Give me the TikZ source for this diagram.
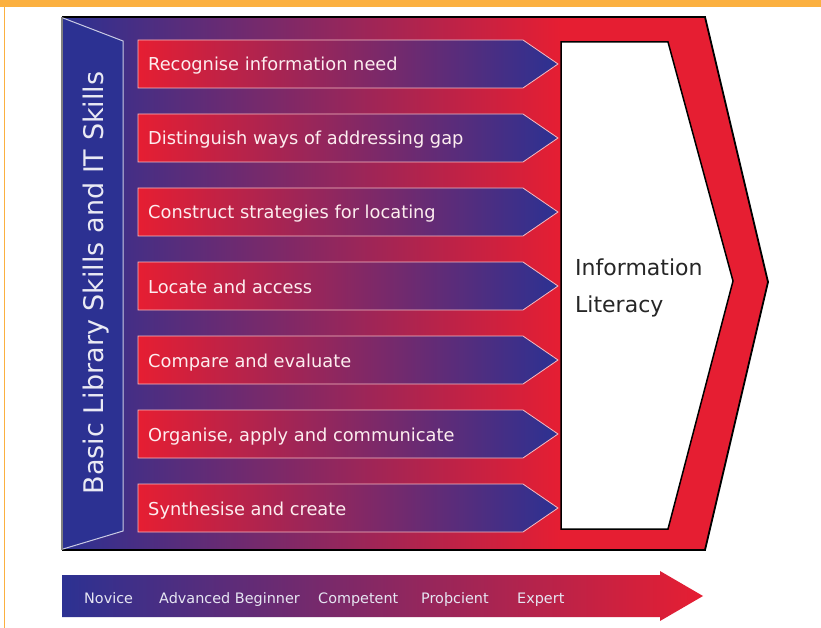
\documentclass[tikz,border=0pt]{standalone}
\usepackage{fontspec}
\setmainfont{DejaVu Sans}
\definecolor{skillblue}{RGB}{44,49,146}
\definecolor{skillred}{RGB}{230,30,50}
\definecolor{frameorange}{RGB}{251,176,64}
\tikzset{
  rowarrow/.style={left color=skillred, right color=skillblue, draw=skillred!30!white, line width=0.8pt},
  rowtext/.style={anchor=base west, inner sep=0pt, text=white!92!skillred, font=\fontsize{17.8}{20}\selectfont},
  levelname/.style={anchor=base west, inner sep=0pt, text=white!88!skillblue, font=\fontsize{14.4}{17}\selectfont},
  littext/.style={anchor=base west, inner sep=0pt, text=black!85, font=\fontsize{22}{26}\selectfont},
}
\begin{document}
\begin{tikzpicture}[x=1pt, y=-1pt]
            \useasboundingbox (0,0) rectangle (821,628);
            \fill[white] (0,0) rectangle (821,628);

            % orange frame
            \fill[frameorange] (0,0) rectangle (821,7);
            \draw[frameorange, line width=1.5pt] (4.5,7) -- (4.5,628);

            % big chevron
            \fill[skillred] (62,17) -- (705,17) -- (768,282) -- (705,550) -- (62,550) -- cycle;
            \shade[left color=skillblue, right color=skillred] (62,17) rectangle (561,550);
            \draw[line width=1.8pt] (62,17) -- (705,17) -- (768,282) -- (705,550) -- (62,550);
            \draw[gray, line width=1.2pt] (62,17) -- (62,550);

            \draw[fill=white, line width=1.5pt] (561,42) -- (668,42) -- (733,281) -- (668,529) -- (561,529) -- cycle;
            \node[littext] (info) at (575,275) {Information};
            \node[littext] (literacy) at (575,312) {Literacy};

            % left panel
            \fill[skillblue] (63,18) -- (123,41) -- (123,531) -- (63,549) -- cycle;
            \draw[white!75!skillblue, line width=1pt] (63,18) -- (123,41) -- (123,531) -- (63,549);
            \node[rotate=90, anchor=base, inner sep=0pt, text=white!90!skillblue, font=\fontsize{27}{30}\selectfont] (basics) at (103,283) {Basic Library Skills and IT Skills};

            % skill rows
            \draw[rowarrow] (138,40) -- (523,40) -- (558,64) -- (523,88) -- (138,88) -- cycle;
            \node[rowtext] (need) at (148,71) {Recognise information need};

            \draw[rowarrow] (138,114) -- (523,114) -- (558,138) -- (523,162) -- (138,162) -- cycle;
            \node[rowtext] (gap) at (148,145) {Distinguish ways of addressing gap};

            \draw[rowarrow] (138,188) -- (523,188) -- (558,212) -- (523,236) -- (138,236) -- cycle;
            \node[rowtext] (strategy) at (148,219) {Construct strategies for locating};

            \draw[rowarrow] (138,262) -- (523,262) -- (558,286) -- (523,310) -- (138,310) -- cycle;
            \node[rowtext] (access) at (148,293) {Locate and access};

            \draw[rowarrow] (138,336) -- (523,336) -- (558,360) -- (523,384) -- (138,384) -- cycle;
            \node[rowtext] (evaluate) at (148,367) {Compare and evaluate};

            \draw[rowarrow] (138,410) -- (523,410) -- (558,434) -- (523,458) -- (138,458) -- cycle;
            \node[rowtext] (communicate) at (148,441) {Organise, apply and communicate};

            \draw[rowarrow] (138,484) -- (523,484) -- (558,508) -- (523,532) -- (138,532) -- cycle;
            \node[rowtext] (create) at (148,515) {Synthesise and create};

            % level arrow
            \shade[left color=skillblue, right color=skillred] (62,575) -- (660,575) -- (660,571) -- (703,596) -- (660,621) -- (660,617) -- (62,617) -- cycle;
            \node[levelname] (novice) at (84,603) {Novice};
            \node[levelname] (beginner) at (159,603) {Advanced Beginner};
            \node[levelname] (competent) at (318,603) {Competent};
            \node[levelname] (proficient) at (421,603) {Proþcient};
            \node[levelname] (expert) at (517,603) {Expert};

        \end{tikzpicture}
\end{document}
